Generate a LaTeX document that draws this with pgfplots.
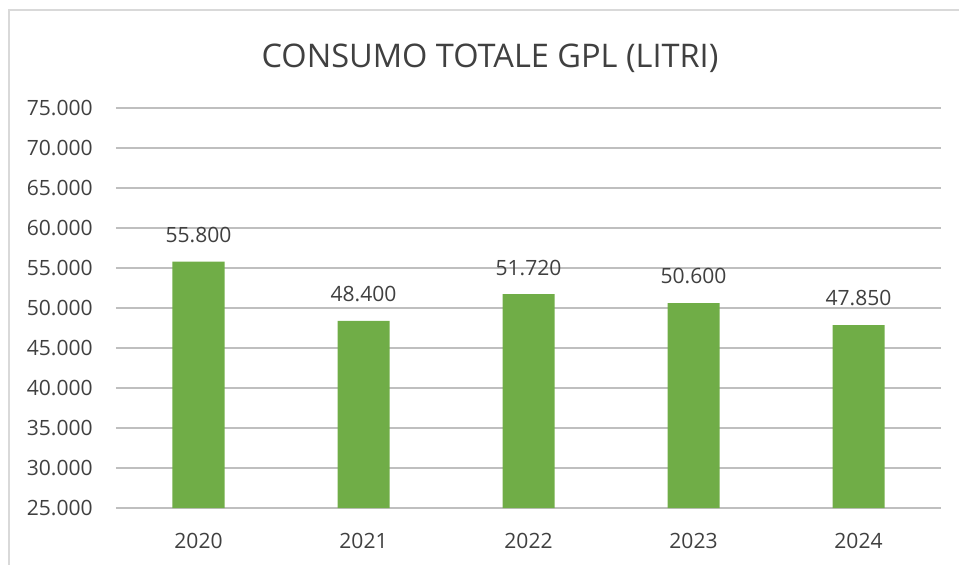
\documentclass[border=0pt]{standalone}
\usepackage{pgfplots}
\pgfplotsset{compat=1.18}
\usepackage{fontspec}
\setmainfont{Open Sans}
\definecolor{bargreen}{HTML}{70AD47}
\definecolor{txt}{HTML}{404040}
\definecolor{grid}{HTML}{D9D9D9}
\begin{document}
\begin{tikzpicture}[x=1pt,y=1pt]
\useasboundingbox (-87,-42) rectangle (632.25,381);
\draw[grid, line width=1.5pt] (-80.25,-60) -- (-80.25,373.5) -- (650,373.5);
\begin{axis}[
  at={(0,0)}, anchor=south west,
  scale only axis, width=618.75pt, height=300pt,
  xmin=-0.5, xmax=4.5, ymin=25000, ymax=75000,
  axis line style={draw=none},
  major tick length=0pt, tick style={draw=none},
  scaled y ticks=false,
  xtick={0,1,2,3,4},
  xticklabels={2020,2021,2022,2023,2024},
  ytick={25000,30000,35000,40000,45000,50000,55000,60000,65000,70000,75000},
  yticklabels={25.000,30.000,35.000,40.000,45.000,50.000,55.000,60.000,65.000,70.000,75.000},
  xmajorgrids=false, ymajorgrids=true, grid style={grid, line width=1pt},
  every tick label/.append style={font=\fontsize{15.8}{18}\selectfont, text=txt, inner sep=0pt},
  yticklabel style={anchor=east, xshift=-17.25pt},
  xticklabel style={anchor=north, yshift=-18.5pt},
  clip=false,
]
\addplot[ybar, bar width=39pt, fill=bargreen, draw=none,
  nodes near coords={\pgfmathprintnumber[fixed,precision=0,1000 sep={.},assume math mode=true]{\pgfplotspointmeta}},
  every node near coord/.append style={anchor=south, inner sep=0pt, yshift=14pt, font=\fontsize{15.8}{18}\selectfont, text=txt}]
coordinates {(0,55800) (1,48400) (2,51720) (3,50600) (4,47850)};
\end{axis}
\node[anchor=base, inner sep=0pt, text=txt, font=\fontsize{24.4}{28}\selectfont] at (280.5,330) {CONSUMO TOTALE GPL (LITRI)};
\end{tikzpicture}
\end{document}
